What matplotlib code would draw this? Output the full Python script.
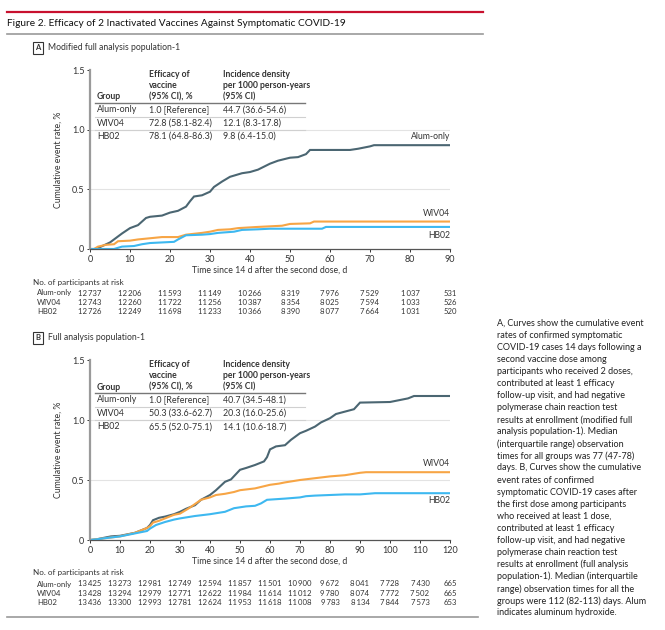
import matplotlib
matplotlib.use("Agg")
import matplotlib.pyplot as plt
from matplotlib.transforms import blended_transform_factory

plt.rcParams['font.family'] = ['Lato', 'DejaVu Sans']

W = 665; H = 630
groups = ['Alum-only', 'WIV04', 'HB02']
colors = ['#4b6672', '#f7a545', '#3db8f0']
txt = '#333333'

# panel A curves
A_alum_x = [0, 1.5, 5, 8, 10, 12, 14, 15, 18, 20, 22, 24, 25, 26, 28, 30, 31, 33, 35, 38, 40, 42, 45, 47, 50, 52, 54, 55, 65, 67, 70, 71, 90]
A_alum_y = [0, 0, 0.055, 0.13, 0.175, 0.20, 0.26, 0.27, 0.28, 0.305, 0.32, 0.355, 0.40, 0.44, 0.45, 0.48, 0.52, 0.565, 0.605, 0.635, 0.645, 0.665, 0.715, 0.74, 0.765, 0.77, 0.795, 0.83, 0.83, 0.84, 0.86, 0.87, 0.87]
A_wiv_x = [0, 1, 2, 4, 6, 7, 10, 12, 15, 18, 22, 24, 28, 30, 32, 35, 37, 42, 45, 48, 50, 55, 56, 90]
A_wiv_y = [0, 0, 0.02, 0.035, 0.04, 0.065, 0.07, 0.08, 0.09, 0.10, 0.10, 0.12, 0.135, 0.145, 0.16, 0.165, 0.175, 0.185, 0.19, 0.195, 0.21, 0.215, 0.23, 0.23]
A_hb_x = [0, 6, 7, 8, 11, 13, 15, 18, 21, 22, 24, 28, 30, 32, 36, 38, 42, 45, 58, 59, 90]
A_hb_y = [0, 0, 0.01, 0.02, 0.025, 0.04, 0.05, 0.055, 0.06, 0.08, 0.115, 0.12, 0.125, 0.135, 0.145, 0.16, 0.165, 0.17, 0.17, 0.185, 0.185]

# panel B curves
B_alum_x = [0, 2, 5, 7, 10, 13, 15, 18, 19, 20, 21, 23, 25, 28, 30, 32, 35, 37, 40, 42, 45, 47, 50, 52, 55, 58, 59, 60, 62, 65, 67, 70, 72, 75, 77, 80, 82, 85, 88, 90, 100, 103, 106, 108, 120]
B_alum_y = [0, 0.005, 0.02, 0.03, 0.035, 0.05, 0.06, 0.09, 0.10, 0.125, 0.165, 0.185, 0.195, 0.215, 0.235, 0.26, 0.29, 0.335, 0.375, 0.415, 0.485, 0.505, 0.585, 0.60, 0.625, 0.655, 0.69, 0.755, 0.78, 0.79, 0.835, 0.89, 0.91, 0.945, 0.98, 1.015, 1.05, 1.07, 1.09, 1.145, 1.15, 1.165, 1.18, 1.20, 1.20]
B_wiv_x = [0, 2, 5, 10, 15, 19, 20, 21, 23, 25, 28, 30, 33, 35, 37, 40, 42, 45, 48, 50, 55, 60, 63, 65, 70, 75, 80, 85, 90, 92, 120]
B_wiv_y = [0, 0.005, 0.015, 0.03, 0.06, 0.10, 0.115, 0.145, 0.16, 0.18, 0.21, 0.22, 0.265, 0.30, 0.335, 0.355, 0.375, 0.385, 0.40, 0.415, 0.43, 0.46, 0.47, 0.48, 0.50, 0.515, 0.53, 0.54, 0.56, 0.565, 0.565]
B_hb_x = [0, 2, 5, 10, 15, 19, 20, 22, 25, 28, 30, 35, 40, 45, 48, 52, 55, 57, 59, 62, 65, 70, 72, 75, 80, 85, 90, 95, 120]
B_hb_y = [0, 0.005, 0.015, 0.03, 0.055, 0.075, 0.095, 0.125, 0.15, 0.17, 0.18, 0.20, 0.215, 0.235, 0.265, 0.28, 0.285, 0.305, 0.335, 0.34, 0.345, 0.355, 0.365, 0.37, 0.375, 0.38, 0.38, 0.39, 0.39]

# tables in the plots
A_eff = ['1.0 [Reference]', '72.8 (58.1-82.4)', '78.1 (64.8-86.3)']
A_inc = ['44.7 (36.6-54.6)', '12.1 (8.3-17.8)', '9.8 (6.4-15.0)']
B_eff = ['1.0 [Reference]', '50.3 (33.6-62.7)', '65.5 (52.0-75.1)']
B_inc = ['40.7 (34.5-48.1)', '20.3 (16.0-25.6)', '14.1 (10.6-18.7)']

# numbers at risk
A_days = [0, 10, 20, 30, 40, 50, 60, 70, 80, 90]
A_risk_alum = [12737, 12206, 11593, 11149, 10266, 8319, 7976, 7529, 1037, 531]
A_risk_wiv = [12743, 12260, 11722, 11256, 10387, 8354, 8025, 7594, 1033, 526]
A_risk_hb = [12726, 12249, 11698, 11233, 10366, 8390, 8077, 7664, 1031, 520]
B_days = [0, 10, 20, 30, 40, 50, 60, 70, 80, 90, 100, 110, 120]
B_risk_alum = [13425, 13273, 12981, 12749, 12594, 11857, 11501, 10900, 9672, 8041, 7728, 7430, 665]
B_risk_wiv = [13428, 13294, 12979, 12771, 12622, 11984, 11614, 11012, 9780, 8074, 7772, 7502, 665]
B_risk_hb = [13436, 13300, 12993, 12781, 12624, 11953, 11618, 11008, 9783, 8134, 7844, 7573, 653]

caption = """A, Curves show the cumulative event
rates of confirmed symptomatic
COVID-19 cases 14 days following a
second vaccine dose among
participants who received 2 doses,
contributed at least 1 efficacy
follow-up visit, and had negative
polymerase chain reaction test
results at enrollment (modified full
analysis population-1). Median
(interquartile range) observation
times for all groups was 77 (47-78)
days. B, Curves show the cumulative
event rates of confirmed
symptomatic COVID-19 cases after
the first dose among participants
who received at least 1 dose,
contributed at least 1 efficacy
follow-up visit, and had negative
polymerase chain reaction test
results at enrollment (full analysis
population-1). Median (interquartile
range) observation times for all the
groups were 112 (82-113) days. Alum
indicates aluminum hydroxide."""


def fy(py):
    return 1 - py / H


def fx(px):
    return px / W


fig = plt.figure(figsize=(W / 100, H / 100), dpi=100)

# header rules and title
fig.add_artist(plt.Line2D([fx(7), fx(483)], [fy(12), fy(12)], color='#c8102e', lw=1.6))
fig.add_artist(plt.Line2D([fx(7), fx(483)], [fy(34), fy(34)], color='#999999', lw=1.2))
fig.add_artist(plt.Line2D([fx(7), fx(478)], [fy(617), fy(617)], color='#999999', lw=1.2))
fig.text(fx(7), fy(23), 'Figure 2. Efficacy of 2 Inactivated Vaccines Against Symptomatic COVID-19',
         fontsize=7.3, color='#111111', va='center', ha='left')
for i, line in enumerate(caption.split('\n')):
    fig.text(fx(497), fy(323 + 12.08 * i), line, fontsize=6.5, color='#222222', va='center', ha='left')


def panel(top, bottom, xmax, label, title, curves, eff, inc, days, risks, label_y):
    ax = fig.add_axes([fx(90), fy(bottom), fx(360), (bottom - top) / H])
    for (xs, ys), c in zip(curves, colors):
        ax.plot(xs, ys, color=c, lw=1.5, solid_joinstyle='miter')
    ax.set_xlim(0, xmax)
    ax.set_ylim(0, 1.5)
    ax.set_xticks(range(0, xmax + 1, 10))
    ax.set_yticks([0, 0.5, 1.0, 1.5])
    ax.set_yticklabels(['0', '0.5', '1.0', '1.5'])
    for v in [0.5, 1.0]:
        ax.axhline(v, color='#e3e3e3', lw=0.8, zorder=0)
    for s in ['top', 'right']:
        ax.spines[s].set_visible(False)
    ax.spines['left'].set_color('#9a9a9a')
    ax.spines['left'].set_linewidth(1.6)
    ax.spines['bottom'].set_color('#555555')
    ax.spines['bottom'].set_linewidth(0.9)
    ax.tick_params(labelsize=6.5, colors=txt, length=2.5, width=0.7, pad=1.5)
    ax.set_xlabel('Time since 14 d after the second dose, d', fontsize=6.3, color=txt, labelpad=1.5)
    ax.set_ylabel('Cumulative event rate, %', fontsize=6.3, color=txt)
    ax.yaxis.set_label_coords(-0.075, 0.5)

    # table in the plot
    tr = blended_transform_factory(ax.transAxes, ax.transData)
    cols = [0.019, 0.164, 0.369]
    hdr = [['', '', 'Group'],
           ['Efficacy of', 'vaccine', '(95% CI), %'],
           ['Incidence density', 'per 1000 person-years', '(95% CI)']]
    for cx, lines in zip(cols, hdr):
        for ly, t in zip([1.46, 1.37, 1.275], lines):
            ax.text(cx, ly, t, transform=tr, fontsize=6.2, fontweight='bold', color=txt, va='center')
    ax.plot([0.014, 0.597], [1.225, 1.225], transform=tr, color='#777777', lw=1.0, clip_on=False)
    for v in [1.11, 1.0]:
        ax.plot([0.014, 0.597], [v, v], transform=tr, color='#d0d0d0', lw=0.8, clip_on=False)
    for ry, g, e, i in zip([1.167, 1.055, 0.945], groups, eff, inc):
        ax.text(cols[0], ry, g, transform=tr, fontsize=6.4, color=txt, va='center')
        ax.text(cols[1], ry, e, transform=tr, fontsize=6.4, color=txt, va='center')
        ax.text(cols[2], ry, i, transform=tr, fontsize=6.4, color=txt, va='center')

    # labels at the end of the curves
    for g, ly in zip(groups, label_y):
        if ly is not None:
            ax.text(xmax, ly, g, fontsize=6.2, color=txt, ha='right', va='center')

    # panel label
    fig.text(fx(38), fy(top - 22), label, fontsize=5.5, fontweight='bold', color=txt, ha='center', va='center',
             bbox=dict(boxstyle='square,pad=0.3', fc='white', ec='#333333', lw=0.8))
    fig.text(fx(48), fy(top - 22), title, fontsize=6.2, color=txt, va='center')

    # numbers at risk
    rt = blended_transform_factory(ax.transData, fig.transFigure)
    fig.text(fx(33), fy(bottom + 33), 'No. of participants at risk', fontsize=5.9, color=txt, va='center')
    for k, (g, row) in enumerate(zip(groups, risks)):
        yy = fy(bottom + 44 + 9.3 * k)
        fig.text(fx(37), yy, g, fontsize=5.6, color=txt, va='center')
        for d, n in zip(days, row):
            s = f'{n:,}'.replace(',', '\u2009')
            ax.text(d, yy, s, transform=rt, fontsize=5.6, color=txt, ha='center', va='center')
    return ax


panel(70, 249, 90, 'A', 'Modified full analysis population-1',
      [(A_alum_x, A_alum_y), (A_wiv_x, A_wiv_y), (A_hb_x, A_hb_y)],
      A_eff, A_inc, A_days, [A_risk_alum, A_risk_wiv, A_risk_hb], [0.94, 0.30, 0.11])
panel(360, 540, 120, 'B', 'Full analysis population-1',
      [(B_alum_x, B_alum_y), (B_wiv_x, B_wiv_y), (B_hb_x, B_hb_y)],
      B_eff, B_inc, B_days, [B_risk_alum, B_risk_wiv, B_risk_hb], [None, 0.64, 0.33])

fig.savefig('out.png', dpi=100)
